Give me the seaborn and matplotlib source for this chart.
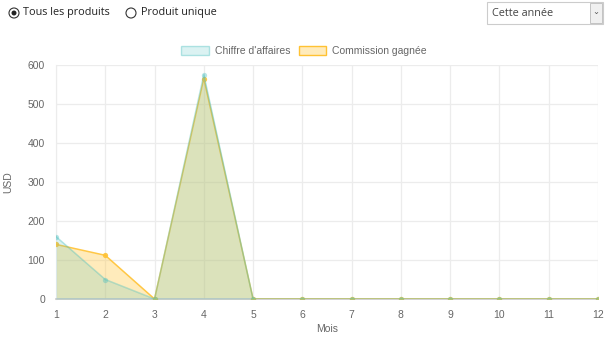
import matplotlib
matplotlib.use("Agg")
import matplotlib.pyplot as plt
from matplotlib.patches import Ellipse, Rectangle, Patch
import seaborn as sns
import pandas as pd

months = [1, 2, 3, 4, 5, 6, 7, 8, 9, 10, 11, 12]
chiffre = [160, 50, 0, 575, 0, 0, 0, 0, 0, 0, 0, 0]
commission = [140, 112, 0, 565, 0, 0, 0, 0, 0, 0, 0, 0]
series_names = ["Chiffre d'affaires", "Commission gagnée"]
radio_labels = ["Tous les produits", "Produit unique"]
period_label = "Cette année"

teal = (75 / 255, 192 / 255, 192 / 255)
yellow = (1.0, 205 / 255, 86 / 255)
yellow_line = (1.0, 0.76, 0.2)

sns.set_style("white")
plt.rcParams['font.family'] = ['Liberation Sans', 'DejaVu Sans']

df = pd.DataFrame({"Mois": months, "chiffre": chiffre, "commission": commission})

fig = plt.figure(figsize=(6.08, 3.37), dpi=100)
ax = fig.add_axes([56 / 608, 1 - 299 / 337, 542 / 608, 234 / 337])

# yellow first, teal drawn on top (like chart.js)
ax.fill_between(df["Mois"], df["commission"], color=yellow, alpha=0.4, lw=0, zorder=2)
sns.lineplot(data=df, x="Mois", y="commission", ax=ax, color=yellow_line, lw=1.1, alpha=0.9,
             marker="o", markersize=3.8, markeredgewidth=0, zorder=3)
ax.fill_between(df["Mois"], df["chiffre"], color=teal, alpha=0.2, lw=0, zorder=4)
sns.lineplot(data=df, x="Mois", y="chiffre", ax=ax, color=teal, lw=1.1, alpha=0.4,
             marker="o", markersize=3.8, markeredgewidth=0, zorder=5)

grid_c = "#ececec"
ax.set_xlim(1, 12)
ax.set_ylim(0, 600)
ax.set_xticks(months)
ax.set_yticks(range(0, 601, 100))
ax.grid(True, color=grid_c, lw=0.9)
ax.set_axisbelow(True)
for s in ["top", "right"]:
    ax.spines[s].set_visible(False)
ax.spines["left"].set_color(grid_c)
ax.spines["bottom"].set_color("#c8c8c8")
ax.spines["bottom"].set_linewidth(1.2)
ax.tick_params(axis="both", length=6, width=0.9, color=grid_c, labelsize=7.5,
               labelcolor="#666666", pad=2)
ax.set_xlabel("Mois", fontsize=7.5, color="#666666", labelpad=3)
ax.set_ylabel("USD", fontsize=7.5, color="#666666", labelpad=10)

handles = [Patch(facecolor=teal + (0.2,), edgecolor=teal + (0.4,), lw=1),
           Patch(facecolor=yellow + (0.4,), edgecolor=yellow_line, lw=1)]
fig.legend(handles, series_names, loc="center", bbox_to_anchor=(0.5, 1 - 51 / 337),
           ncol=2, frameon=False, fontsize=7.5, labelcolor="#666666",
           handlelength=2.6, handleheight=1.0, handletextpad=0.6, columnspacing=0.8)

# top controls
ui_font = ['Open Sans', 'DejaVu Sans']
H = 337.0
W = 608.0
for cx, filled in [(14, True), (131, False)]:
    fig.patches.append(Ellipse((cx / W, 1 - 13 / H), 10 / W, 10 / H, transform=fig.transFigure,
                               fill=False, ec="#333333", lw=0.8))
    if filled:
        fig.patches.append(Ellipse((cx / W, 1 - 13 / H), 5 / W, 5 / H,
                                   transform=fig.transFigure, fc="#222222", ec="none"))
fig.text(23 / W, 1 - 13 / H, radio_labels[0], family=ui_font, fontsize=7.8,
         color="#222222", va="center")
fig.text(141 / W, 1 - 13 / H, radio_labels[1], family=ui_font, fontsize=7.8,
         color="#222222", va="center")

fig.patches.append(Rectangle((487 / W, 1 - 24 / H), 116 / W, 22 / H, transform=fig.transFigure,
                             fc="white", ec="#cccccc", lw=0.8))
fig.patches.append(Rectangle((590 / W, 1 - 23 / H), 12 / W, 20 / H, transform=fig.transFigure,
                             fc="#f0f0f0", ec="#bbbbbb", lw=0.6))
fig.text(596 / W, 1 - 12 / H, "⌄", family=ui_font, fontsize=6, color="#555555",
         ha="center", va="center")
fig.text(492 / W, 1 - 13 / H, period_label, family=ui_font, fontsize=7.8,
         color="#444444", va="center")

fig.savefig("out.png", dpi=100)
